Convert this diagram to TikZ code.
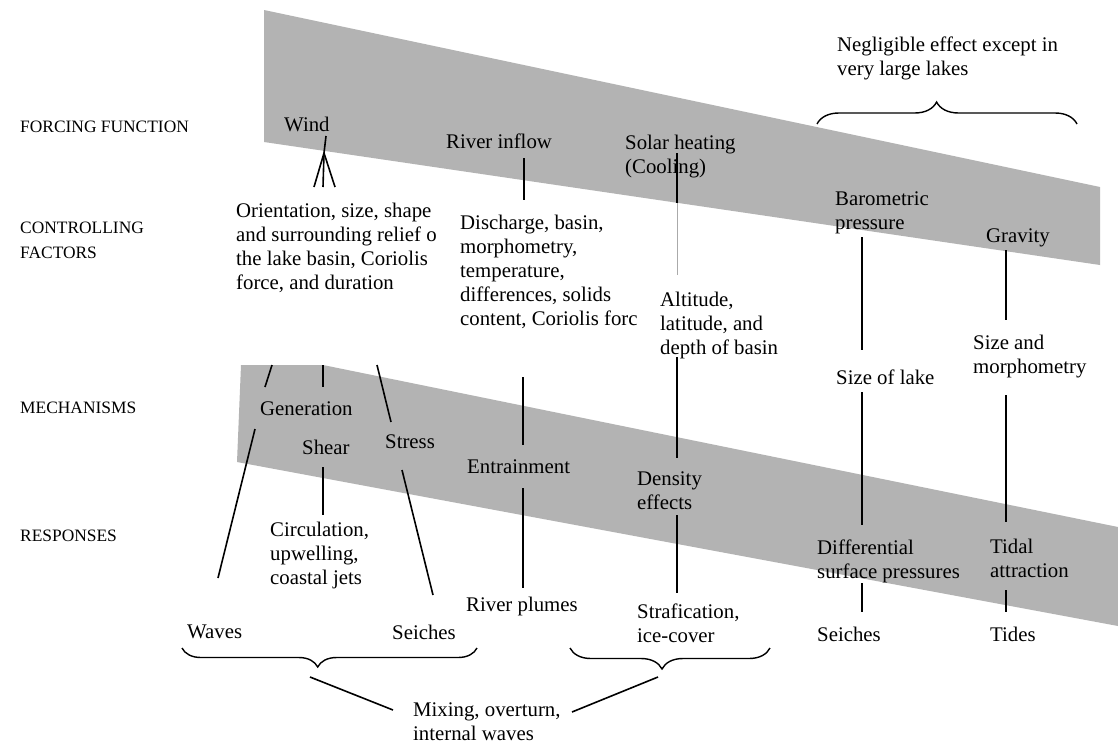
\documentclass[tikz,border=0pt]{standalone}
\usepackage{fontspec}
\setmainfont{Liberation Serif}
\usetikzlibrary{decorations.pathreplacing}
\definecolor{bandgray}{RGB}{179,179,179}
\definecolor{thingray}{RGB}{170,170,170}
\begin{document}
\begin{tikzpicture}[x=1pt,y=-1pt,
  txt/.style={font=\fontsize{20.8}{24}\selectfont, inner sep=0pt, anchor=north west, align=left},
  side/.style={font=\fontsize{17.4}{25}\selectfont, inner sep=0pt, anchor=north west, align=left},
  ln/.style={line width=1.6pt},
  thin gray line/.style={line width=0.8pt, draw=thingray},
  band/.style={fill=bandgray, draw=none},
  brc/.style={decorate, line width=1.4pt, decoration={brace, amplitude=#1, aspect=0.46}},
  mbrc/.style={decorate, line width=1.4pt, decoration={brace, mirror, amplitude=#1, aspect=0.46}}]
\useasboundingbox (0,0) rectangle (1118,745);
\fill[white] (0,0) rectangle (1118,745);
% bands
\fill[band] (264,10) -- (1100,187) -- (1100,265) -- (264,142) -- cycle;
\fill[band] (241,365) -- (323,365) -- (1118,527) -- (1118,626) -- (237,462) -- cycle;

% side labels
\node[side] (ff) at (20,121) {FORCING FUNCTION};
\node[side] (cf) at (20,222) {CONTROLLING\\FACTORS};
\node[side] (mech) at (20,402) {MECHANISMS};
\node[side] (resp) at (20,530) {RESPONSES};

% top note
\node[txt] (neg) at (837,37) {Negligible effect except in\\very large lakes};

% forcing functions
\node[txt] (wind) at (284,117) {Wind};
\node[txt] (river) at (446,134) {River inflow};
\node[txt] (solar) at (625,135) {Solar heating\\(Cooling)};
\node[txt] (baro) at (835,192) {Barometric\\pressure};
\node[txt] (grav) at (986,229) {Gravity};

% controlling factors
\node[txt] (orient) at (236,203) {Orientation, size, shape\\and surrounding relief o\\the lake basin, Coriolis\\force, and duration};
\node[txt] (disch) at (460,215) {Discharge, basin,\\morphometry,\\temperature,\\differences, solids\\content, Coriolis forc};
\node[txt] (alt) at (660,292) {Altitude,\\latitude, and\\depth of basin};
\node[txt] (sizelake) at (836,370) {Size of lake};
\node[txt] (sizemorph) at (973,335) {Size and\\morphometry};

% mechanisms
\node[txt] (gen) at (260,402) {Generation};
\node[txt] (shear) at (302,440) {Shear};
\node[txt] (stress) at (385,435) {Stress};
\node[txt] (entr) at (467,460) {Entrainment};
\node[txt] (dens) at (637,472) {Density\\effects};
\node[txt] (diff) at (817,540) {Differential\\surface pressures};
\node[txt] (tidal) at (990,539) {Tidal\\attraction};

% responses
\node[txt] (circ) at (270,522) {Circulation,\\upwelling,\\coastal jets};
\node[txt] (plumes) at (466,597) {River plumes};
\node[txt] (strat) at (637,604) {Strafication,\\ice-cover};
\node[txt] (waves) at (187,625) {Waves};
\node[txt] (seichesA) at (392,625) {Seiches};
\node[txt] (seichesB) at (817,627) {Seiches};
\node[txt] (tides) at (990,627) {Tides};
\node[txt] (mixing) at (413,703) {Mixing, overturn,\\internal waves};

% connector end points
\coordinate (w0) at (326,136);
\coordinate (w1) at (324,153);
\coordinate (w2) at (314,187);
\coordinate (w3) at (323,187);
\coordinate (w4) at (335,187);
\coordinate (r0) at (524,158);
\coordinate (r1) at (524,200);
\coordinate (s0) at (677,153);
\coordinate (s1) at (677,203);
\coordinate (s2) at (677,275);
\coordinate (b0) at (862,237);
\coordinate (b1) at (862,350);
\coordinate (g0) at (1006,250);
\coordinate (g1) at (1006,320);
\coordinate (ga0) at (272,365);
\coordinate (ga1) at (265,387);
\coordinate (gb0) at (323,365);
\coordinate (gb1) at (323,387);
\coordinate (st0) at (377,365);
\coordinate (st1) at (391,422);
\coordinate (wa0) at (255,429);
\coordinate (wa1) at (218,578);
\coordinate (sh0) at (323,467);
\coordinate (sh1) at (323,515);
\coordinate (sd0) at (402,470);
\coordinate (sd1) at (433,595);
\coordinate (e0) at (523,377);
\coordinate (e1) at (523,445);
\coordinate (e2) at (523,488);
\coordinate (e3) at (523,588);
\coordinate (d0) at (677,357);
\coordinate (d1) at (677,458);
\coordinate (d2) at (677,515);
\coordinate (d3) at (677,593);
\coordinate (l0) at (862,392);
\coordinate (l1) at (862,525);
\coordinate (l2) at (862,583);
\coordinate (l3) at (862,612);
\coordinate (m0) at (1006,395);
\coordinate (m1) at (1006,522);
\coordinate (m2) at (1006,590);
\coordinate (m3) at (1006,612);
\coordinate (brA0) at (182,648);
\coordinate (brA1) at (477,648);
\coordinate (brB0) at (570,648);
\coordinate (brB1) at (770,648);
\coordinate (brT0) at (817,124);
\coordinate (brT1) at (1077,124);
\coordinate (tipA) at (310,677);
\coordinate (mixA) at (393,710);
\coordinate (tipB) at (658,677);
\coordinate (mixB) at (572,712);

% connectors
\draw[ln] (w0) -- (w1);
\draw[ln] (w1) -- (w2);
\draw[ln] (w1) -- (w3);
\draw[ln] (w1) -- (w4);
\draw[ln] (r0) -- (r1);
\draw[ln] (s0) -- (s1);
\draw[thin gray line] (s1) -- (s2);
\draw[ln] (b0) -- (b1);
\draw[ln] (g0) -- (g1);
\draw[ln] (ga0) -- (ga1);
\draw[ln] (gb0) -- (gb1);
\draw[ln] (st0) -- (st1);
\draw[ln] (wa0) -- (wa1);
\draw[ln] (sh0) -- (sh1);
\draw[ln] (sd0) -- (sd1);
\draw[ln] (e0) -- (e1);
\draw[ln] (e2) -- (e3);
\draw[ln] (d0) -- (d1);
\draw[ln] (d2) -- (d3);
\draw[ln] (l0) -- (l1);
\draw[ln] (l2) -- (l3);
\draw[ln] (m0) -- (m1);
\draw[ln] (m2) -- (m3);

% braces
\draw[mbrc=19pt] (brA0) -- (brA1);
\draw[mbrc=21pt] (brB0) -- (brB1);
\draw[brc=22pt] (brT0) -- (brT1);
\draw[ln] (tipA) -- (mixA);
\draw[ln] (tipB) -- (mixB);
\end{tikzpicture}
\end{document}
